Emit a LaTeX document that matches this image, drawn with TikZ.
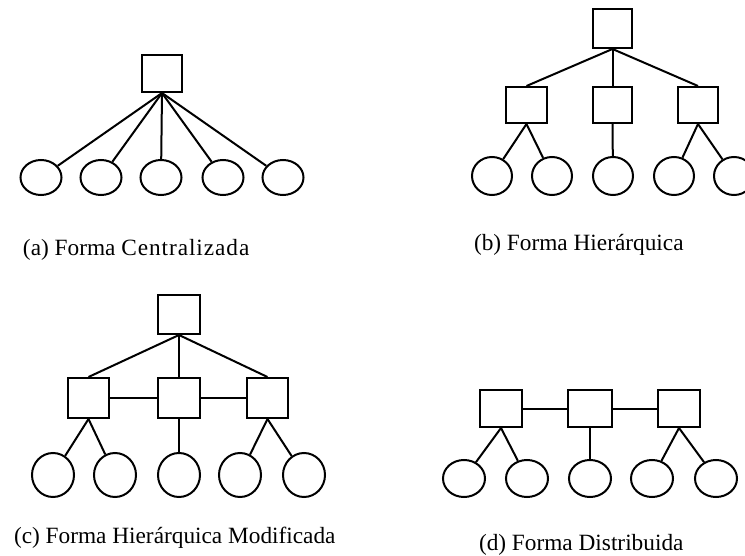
\documentclass[tikz,border=0pt]{standalone}
\usepackage{fontspec}
\setmainfont{Liberation Serif}
\usetikzlibrary{shapes.geometric}
\begin{document}
\begin{tikzpicture}[x=1pt,y=-1pt,
  every path/.style={line width=2pt},
  sq/.style={draw, rectangle, inner sep=0pt, line width=2pt, minimum width=#1},
  nd/.style={draw, ellipse, inner sep=0pt, line width=2pt},
  captext/.style={anchor=west, inner sep=0pt, font=\fontsize{23.3}{26}\selectfont}]
\useasboundingbox (0,0) rectangle (745,556);

% (a) centralised form
\node[sq=40pt, minimum height=37pt] (a0) at (162,73.5) {};
\foreach \i/\x in {1/41,2/101,3/161,4/223,5/283}
  \node[nd, minimum width=41pt, minimum height=35pt] (a\i) at (\x,177.5) {};
\foreach \i in {1,...,5} \draw (a0.south) -- (a\i);
\node[captext] (la) at (22,250) {(a) Forma \addfontfeature{LetterSpace=4}Centralizada};

% (b) hierarchical form
\node[sq=39pt, minimum height=39pt] (b0) at (612.5,28.5) {};
\node[sq=41pt, minimum height=36pt] (b1) at (526.5,105) {};
\node[sq=39pt, minimum height=36pt] (b2) at (612.5,105) {};
\node[sq=40pt, minimum height=36pt] (b3) at (698,105) {};
\foreach \i in {1,2,3} \draw (b0.south) -- (b\i.north);
\foreach \i/\x in {1/492,2/552,3/613,4/674,5/734}
  \node[nd, minimum width=40pt, minimum height=38pt] (bc\i) at (\x,176) {};
\draw (b1.south) -- (bc1);
\draw (b1.south) -- (bc2);
\draw (b2.south) -- (bc3);
\draw (b3.south) -- (bc4);
\draw (b3.south) -- (bc5);
\node[captext] (lb) at (473,245) {(b) Forma Hierárquica};

% (c) modified hierarchical form
\node[sq=42pt, minimum height=39pt] (c0) at (179,314.5) {};
\node[sq=41pt, minimum height=40pt] (c1) at (88.5,398) {};
\node[sq=42pt, minimum height=40pt] (c2) at (179,398) {};
\node[sq=41pt, minimum height=40pt] (c3) at (267.5,398) {};
\foreach \i in {1,2,3} \draw (c0.south) -- (c\i.north);
\draw (c1.east) -- (c2.west);
\draw (c2.east) -- (c3.west);
\foreach \i/\x in {1/53,2/115,3/179,4/240,5/304}
  \node[nd, minimum width=42pt, minimum height=44pt] (cc\i) at (\x,475) {};
\draw (c1.south) -- (cc1);
\draw (c1.south) -- (cc2);
\draw (c2.south) -- (cc3);
\draw (c3.south) -- (cc4);
\draw (c3.south) -- (cc5);
\node[captext] (lc) at (13,538) {(c) Forma Hierárquica Modificada};

% (d) distributed form
\node[sq=42pt, minimum height=37pt] (d1) at (501,408.5) {};
\node[sq=44pt, minimum height=37pt] (d2) at (590,408.5) {};
\node[sq=42pt, minimum height=37pt] (d3) at (679,408.5) {};
\draw (d1.east) -- (d2.west);
\draw (d2.east) -- (d3.west);
\foreach \i/\x in {1/464,2/527,3/590,4/652,5/716}
  \node[nd, minimum width=42pt, minimum height=37pt] (dc\i) at (\x,478.5) {};
\draw (d1.south) -- (dc1);
\draw (d1.south) -- (dc2);
\draw (d2.south) -- (dc3);
\draw (d3.south) -- (dc4);
\draw (d3.south) -- (dc5);
\node[captext] (ld) at (478,545) {(d) Forma Distribuida};
\end{tikzpicture}
\end{document}
